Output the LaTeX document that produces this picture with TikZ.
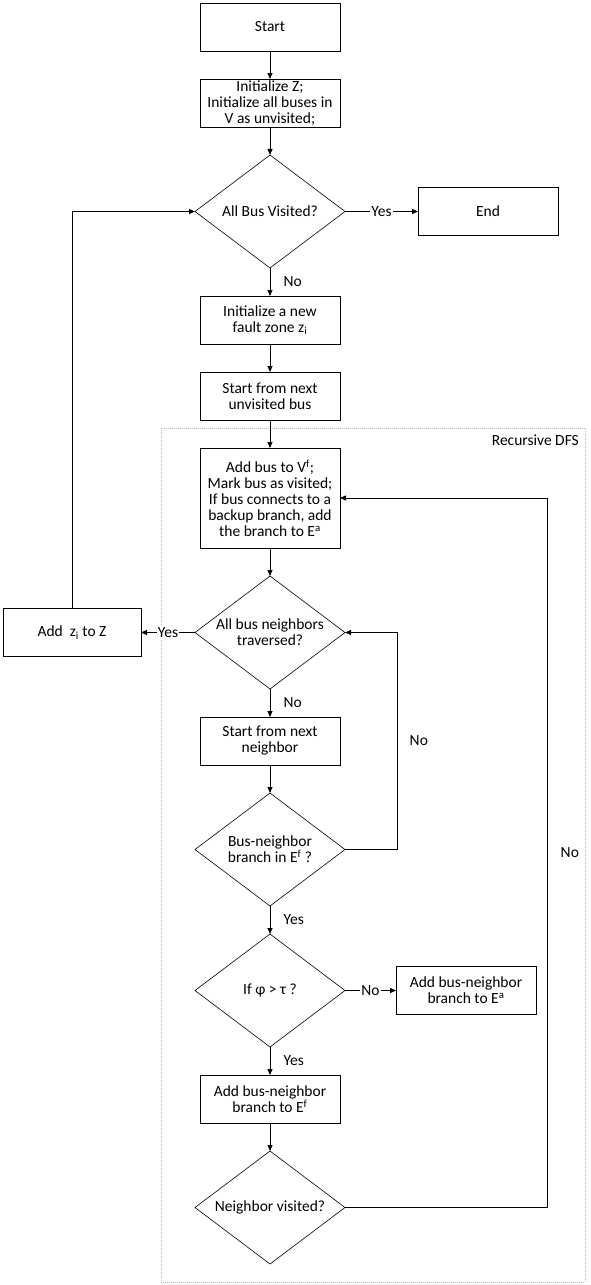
\documentclass[tikz,border=0pt]{standalone}
\usepackage{fontspec}
\setmainfont{Carlito}
\usetikzlibrary{positioning, arrows.meta, shapes.geometric}

\begin{document}
\begin{tikzpicture}[
		x=1pt, y=1pt,
		every node/.style={font=\fontsize{15.5}{16}\selectfont},
		proc/.style={rectangle, draw, line width=0.8pt, align=center, inner sep=1pt, outer sep=0pt, minimum width=140pt, minimum height=48pt},
		test/.style={diamond, draw, line width=0.6pt, align=center, inner sep=-5pt, outer sep=0pt, aspect=1.33, minimum width=150pt, minimum height=113pt},
		lbl/.style={fill=white, inner sep=1pt},
		dfs/.style={draw=gray!55, line width=0.6pt, dash pattern=on 1pt off 1pt},
		flow/.style={-{Triangle[length=6pt, width=5pt]}, line width=0.8pt},
		node distance=28pt
	]
	\useasboundingbox (0,0) rectangle (590,-1285);

	\draw[dfs] (161,-428) rectangle (585,-1282);
	\node[anchor=north east, inner sep=1pt] (dfslabel) at (580,-434) {Recursive DFS};

	\node[proc] (start) at (270,-27) {Start};
	\node[proc, below=of start] (init) {Initialize Z;\\Initialize all buses in\\V as unvisited;};
	\node[test, below=of init] (visit) {All Bus Visited?};
	\node[proc, right=73pt of visit] (stop) {End};
	\node[proc, below=of visit] (newzone) {Initialize a new\\fault zone z\textsubscript{i}};
	\node[proc, below=of newzone] (nextbus) {Start from next\\unvisited bus};
	\node[proc, below=of nextbus, minimum height=100pt] (addbus) {Add bus to V\textsuperscript{f};\\Mark bus as visited;\\If bus connects to a\\backup branch, add\\the branch to E\textsuperscript{a}};
	\node[test, below=of addbus] (nbdone) {All bus neighbors\\traversed?};
	\node[proc, left=54pt of nbdone, minimum width=138pt] (addz) {Add \ z\textsubscript{i} to Z};
	\node[proc, below=of nbdone] (nextnb) {Start from next\\neighbor};
	\node[test, below=of nextnb] (inef) {Bus-neighbor\\branch in E\textsuperscript{f} ?};
	\node[test, below=of inef] (phi) {If φ > τ ?};
	\node[proc, right=51pt of phi] (adda) {Add bus-neighbor\\branch to E\textsuperscript{a}};
	\node[proc, below=of phi] (addf) {Add bus-neighbor\\branch to E\textsuperscript{f}};
	\node[test, below=of addf] (nbvis) {Neighbor visited?};

	\foreach \i/\j in {start/init, init/visit, newzone/nextbus, nextbus/addbus, addbus/nbdone, nextnb/inef, addf/nbvis}
		\draw[flow] (\i) -- (\j);

	\foreach \i/\j/\t in {visit/newzone/No, nbdone/nextnb/No, inef/phi/Yes, phi/addf/Yes}
		\draw[flow] (\i) -- node[right=10pt] {\t} (\j);

	\foreach \i/\j/\t in {visit/stop/Yes, nbdone/addz/Yes, phi/adda/No}
		\draw[flow] (\i) -- node[lbl] {\t} (\j);

	\draw[flow] (addz) |- (visit);
	\draw[flow] (inef.east) -- ++(52,0) |- node[pos=0.25, right=9pt] {No} (nbdone.east);
	\draw[flow] (nbvis.east) -- ++(202,0) |- node[pos=0.25, right=10pt] {No} (addbus.east);

\end{tikzpicture}
\end{document}
